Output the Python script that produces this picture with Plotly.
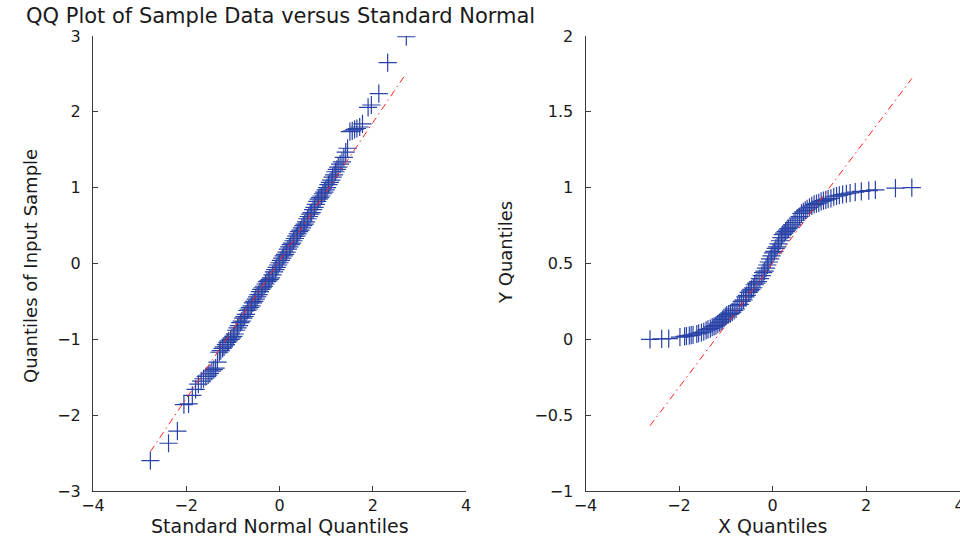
import plotly.graph_objects as go

# ---------------- data ----------------
# Left panel: standard normal quantiles vs sample quantiles
std_normal_q = [
    -2.77, -2.38, -2.19, -2.05, -1.95, -1.87, -1.80, -1.74, -1.68, -1.63,
    -1.58, -1.53, -1.49, -1.45, -1.41, -1.37, -1.33, -1.29, -1.26, -1.22,
    -1.19, -1.15, -1.12, -1.09, -1.05, -1.02, -0.99, -0.96, -0.93, -0.90,
    -0.87, -0.84, -0.81, -0.78, -0.75, -0.72, -0.69, -0.66, -0.63, -0.60,
    -0.57, -0.54, -0.51, -0.48, -0.45, -0.42, -0.39, -0.36, -0.33, -0.30,
    -0.27, -0.24, -0.21, -0.18, -0.15, -0.12, -0.09, -0.06, -0.03, 0.00,
    0.03, 0.06, 0.09, 0.12, 0.15, 0.18, 0.21, 0.24, 0.27, 0.30,
    0.33, 0.36, 0.39, 0.42, 0.45, 0.48, 0.51, 0.54, 0.57, 0.60,
    0.63, 0.66, 0.69, 0.72, 0.75, 0.78, 0.81, 0.84, 0.87, 0.90,
    0.93, 0.96, 0.99, 1.02, 1.05, 1.08, 1.11, 1.14, 1.17, 1.20,
    1.23, 1.26, 1.30, 1.34, 1.38, 1.42, 1.46, 1.51, 1.56, 1.61,
    1.66, 1.72, 1.78, 1.90, 1.97, 2.13, 2.32, 2.72,
]
sample_q = [
    -2.60, -2.37, -2.21, -1.86, -1.85, -1.74, -1.66, -1.59, -1.55, -1.52,
    -1.49, -1.47, -1.45, -1.42, -1.40, -1.38, -1.30, -1.17, -1.15, -1.12,
    -1.10, -1.07, -1.04, -1.02, -1.00, -0.98, -0.96, -0.93, -0.88, -0.85,
    -0.82, -0.78, -0.76, -0.72, -0.70, -0.67, -0.62, -0.60, -0.58, -0.56,
    -0.52, -0.50, -0.47, -0.44, -0.41, -0.37, -0.34, -0.32, -0.30, -0.27,
    -0.24, -0.23, -0.21, -0.19, -0.15, -0.11, -0.08, -0.05, -0.02, 0.01,
    0.04, 0.07, 0.10, 0.12, 0.15, 0.19, 0.22, 0.25, 0.27, 0.30,
    0.33, 0.36, 0.39, 0.42, 0.44, 0.47, 0.50, 0.52, 0.55, 0.59,
    0.62, 0.65, 0.67, 0.71, 0.74, 0.78, 0.82, 0.85, 0.87, 0.89,
    0.92, 0.94, 0.97, 1.00, 1.04, 1.07, 1.10, 1.14, 1.17, 1.21,
    1.24, 1.27, 1.31, 1.34, 1.40, 1.47, 1.52, 1.74, 1.75, 1.77,
    1.78, 1.80, 1.84, 2.06, 2.09, 2.24, 2.65, 2.99,
]
ref_line_left_x = [-2.77, 2.72]
ref_line_left_y = [-2.48, 2.51]

# Right panel: X quantiles vs Y quantiles
x_quantiles = [
    -2.62, -2.37, -2.22, -1.98, -1.88, -1.84, -1.78, -1.74, -1.70, -1.62,
    -1.58, -1.52, -1.47, -1.42, -1.38, -1.33, -1.29, -1.25, -1.21, -1.17,
    -1.13, -1.10, -1.07, -1.04, -1.01, -0.98, -0.94, -0.90, -0.86, -0.82,
    -0.78, -0.74, -0.70, -0.66, -0.62, -0.58, -0.55, -0.51, -0.48, -0.45,
    -0.41, -0.38, -0.35, -0.31, -0.27, -0.23, -0.20, -0.17, -0.14, -0.11,
    -0.08, -0.05, -0.02, 0.01, 0.04, 0.07, 0.10, 0.13, 0.16, 0.19,
    0.22, 0.25, 0.28, 0.31, 0.34, 0.38, 0.42, 0.46, 0.50, 0.54,
    0.58, 0.62, 0.66, 0.70, 0.74, 0.79, 0.84, 0.89, 0.94, 0.99,
    1.04, 1.09, 1.14, 1.19, 1.25, 1.31, 1.37, 1.43, 1.50, 1.58,
    1.66, 1.77, 1.90, 2.06, 2.20, 2.63, 2.98,
]
y_quantiles = [
    0.000, 0.003, 0.005, 0.015, 0.020, 0.022, 0.025, 0.028, 0.030, 0.035,
    0.040, 0.045, 0.050, 0.060, 0.065, 0.070, 0.080, 0.085, 0.090, 0.100,
    0.110, 0.120, 0.130, 0.140, 0.150, 0.160, 0.165, 0.170, 0.180, 0.190,
    0.200, 0.220, 0.230, 0.250, 0.260, 0.280, 0.290, 0.310, 0.320, 0.330,
    0.340, 0.360, 0.370, 0.380, 0.400, 0.420, 0.440, 0.450, 0.470, 0.490,
    0.510, 0.530, 0.550, 0.570, 0.580, 0.600, 0.610, 0.630, 0.650, 0.670,
    0.690, 0.700, 0.710, 0.720, 0.730, 0.740, 0.755, 0.770, 0.785, 0.800,
    0.810, 0.830, 0.840, 0.850, 0.860, 0.870, 0.880, 0.890, 0.895, 0.900,
    0.910, 0.915, 0.920, 0.925, 0.930, 0.940, 0.945, 0.950, 0.955, 0.960,
    0.965, 0.970, 0.975, 0.980, 0.985, 0.997, 1.000,
]
ref_line_right_x = [-2.62, 2.98]
ref_line_right_y = [-0.57, 1.72]

left_xticks = [-4, -2, 0, 2, 4]
left_yticks = [-3, -2, -1, 0, 1, 2, 3]
right_xticks = [-4, -2, 0, 2, 4]
right_yticks = [-1, -0.5, 0, 0.5, 1, 1.5, 2]

# ---------------- styling ----------------
W, H = 960, 536
FONT = "DejaVu Sans"
MARK = "rgb(40,66,165)"
AXC = "#3a3a3a"

fig = go.Figure()

marker = dict(symbol="cross-thin", size=13, line=dict(color=MARK, width=1.2), color=MARK)
red = dict(color="#ff2020", width=1, dash="7px,4px,1.5px,4px")

fig.add_trace(go.Scatter(x=std_normal_q, y=sample_q, mode="markers", marker=marker,
                         xaxis="x", yaxis="y", showlegend=False))
fig.add_trace(go.Scatter(x=ref_line_left_x, y=ref_line_left_y, mode="lines", line=red,
                         xaxis="x", yaxis="y", showlegend=False))
fig.add_trace(go.Scatter(x=x_quantiles, y=y_quantiles, mode="markers", marker=marker,
                         xaxis="x2", yaxis="y2", showlegend=False))
fig.add_trace(go.Scatter(x=ref_line_right_x, y=ref_line_right_y, mode="lines", line=red,
                         xaxis="x2", yaxis="y2", showlegend=False))

def px_x(p):
    return p / W

def px_y(p):
    return 1 - p / H

common = dict(showgrid=False, zeroline=False, showline=True, linecolor=AXC, linewidth=1,
              ticks="inside", ticklen=5, tickcolor=AXC, tickwidth=1, automargin=False,
              ticklabeloverflow="allow",
              tickfont=dict(family=FONT, size=16, color="#1a1a1a"), mirror=False)

fig.update_layout(
    width=W, height=H,
    margin=dict(l=0, r=0, t=0, b=0, pad=0),
    paper_bgcolor="white", plot_bgcolor="white",
    xaxis=dict(domain=[px_x(93), px_x(466)], range=[-4, 4], tickvals=left_xticks,
               anchor="y", ticklabelstandoff=0, **common),
    yaxis=dict(domain=[px_y(491), px_y(36)], range=[-3, 3], tickvals=left_yticks,
               anchor="x", ticklabelstandoff=8, **common),
    xaxis2=dict(domain=[px_x(585.5), px_x(959.5)], range=[-4, 4], tickvals=right_xticks,
                anchor="y2", ticklabelstandoff=0, **common),
    yaxis2=dict(domain=[px_y(491), px_y(36)], range=[-1, 2], tickvals=right_yticks,
                anchor="x2", ticklabelstandoff=8, **common),
)

ann_font = dict(family=FONT, size=19, color="#1a1a1a")
fig.add_annotation(text="QQ Plot of Sample Data versus Standard Normal", xref="paper", yref="paper",
                   x=px_x(280), y=px_y(16), xanchor="center", yanchor="middle",
                   showarrow=False, font=dict(family=FONT, size=21, color="#1a1a1a"))
fig.add_annotation(text="Standard Normal Quantiles", xref="paper", yref="paper",
                   x=px_x(280), y=px_y(526), xanchor="center", yanchor="middle",
                   showarrow=False, font=ann_font)
fig.add_annotation(text="X Quantiles", xref="paper", yref="paper",
                   x=px_x(772), y=px_y(526), xanchor="center", yanchor="middle",
                   showarrow=False, font=ann_font)
fig.add_annotation(text="Quantiles of Input Sample", xref="paper", yref="paper",
                   x=px_x(31), y=px_y(266), xanchor="center", yanchor="middle", textangle=-90,
                   showarrow=False, font=dict(family=FONT, size=18, color="#1a1a1a"))
fig.add_annotation(text="Y Quantiles", xref="paper", yref="paper",
                   x=px_x(506), y=px_y(253), xanchor="center", yanchor="middle", textangle=-90,
                   showarrow=False, font=dict(family=FONT, size=18, color="#1a1a1a"))

fig.write_html("out.html")
